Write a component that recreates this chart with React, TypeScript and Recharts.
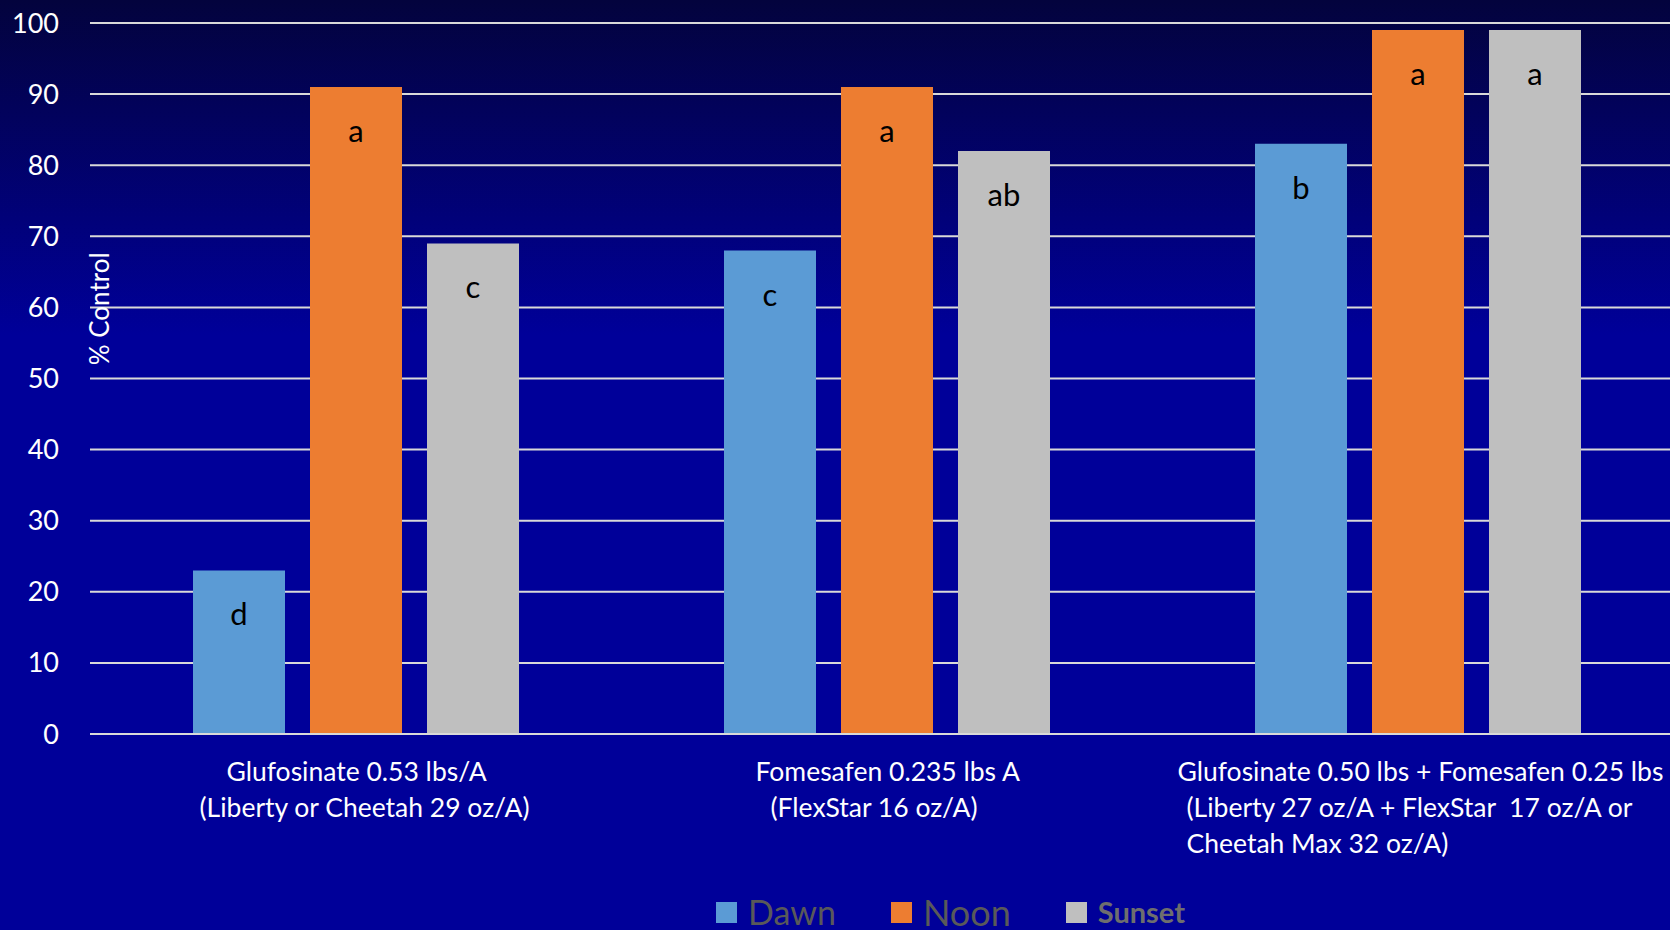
import { BarChart, Bar, XAxis, YAxis, CartesianGrid, Legend, LabelList } from "recharts";

// treatments (one tick per treatment, several lines each)
const categories = ["Glufosinate", "Fomesafen", "Glufosinate + Fomesafen"];
const categoryLines = [
  ["Glufosinate 0.53 lbs/A", "(Liberty or Cheetah 29 oz/A)"],
  ["Fomesafen 0.235 lbs A", "(FlexStar 16 oz/A)"],
  [
    "Glufosinate 0.50 lbs + Fomesafen 0.25 lbs",
    "(Liberty 27 oz/A + FlexStar\u00a0\u00a017 oz/A or",
    "Cheetah Max 32 oz/A)",
  ],
];

const dawn = [23, 68, 83];
const noon = [91, 91, 99];
const sunset = [69, 82, 99];

const dawnLetters = ["d", "c", "b"];
const noonLetters = ["a", "a", "a"];
const sunsetLetters = ["c", "ab", "a"];

const yTicks = [0, 10, 20, 30, 40, 50, 60, 70, 80, 90, 100];

const data = categories.map((name, i) => ({
  name,
  dawn: dawn[i],
  noon: noon[i],
  sunset: sunset[i],
  dawnLetter: dawnLetters[i],
  noonLetter: noonLetters[i],
  sunsetLetter: sunsetLetters[i],
}));

const FONT = "Lato, 'Open Sans', sans-serif";
const COLORS = { dawn: "#5B9BD5", noon: "#ED7D31", sunset: "#BFBFBF" };
const GRID = "#D9D9D9";

// left edge of each tick line, relative to the band centre
const lineStart = [
  [-129, -156],
  [-131, -116],
  [-240, -231, -231],
];

const CategoryTick = (props: any) => {
  const { x, y, index } = props;
  const lines = categoryLines[index] ?? [];
  return (
    <g>
      {lines.map((t, j) => (
        <text
          key={j}
          x={x + lineStart[index][j]}
          y={y + 47 + j * 36}
          textAnchor="start"
          fill="#FFFFFF"
          fontSize={26.5}
          fontFamily={FONT}
        >
          {t}
        </text>
      ))}
    </g>
  );
};

const YLabel = (props: any) => {
  const vb = props.viewBox || {};
  const cx = vb.x + vb.width + 9;
  const cy = vb.y + vb.height * 0.402;
  return (
    <text
      x={cx}
      y={cy}
      transform={`rotate(-90 ${cx} ${cy})`}
      textAnchor="middle"
      dominantBaseline="central"
      fill="#FFFFFF"
      fontSize={26}
      fontFamily={FONT}
    >
      % Control
    </text>
  );
};

const legendItems = [
  { label: "Dawn", color: COLORS.dawn, text: "#595959", size: 34, weight: 400 },
  { label: "Noon", color: COLORS.noon, text: "#595959", size: 36, weight: 400 },
  { label: "Sunset", color: COLORS.sunset, text: "#6E6E6E", size: 29, weight: 700 },
];

const LegendContent = () => (
  <div
    style={{
      height: 38,
      display: "flex",
      alignItems: "center",
      paddingLeft: 716,
      paddingTop: 2,
      boxSizing: "border-box",
      fontFamily: FONT,
    }}
  >
    {legendItems.map((it) => (
      <div key={it.label} style={{ display: "flex", alignItems: "center", marginRight: 55 }}>
        <span style={{ width: 21, height: 21, background: it.color, marginRight: 11, display: "inline-block" }} />
        <span style={{ color: it.text, fontSize: it.size, fontWeight: it.weight, lineHeight: "32px" }}>
          {it.label}
        </span>
      </div>
    ))}
  </div>
);

const letterStyle = { fill: "#000000", fontSize: 31, fontFamily: FONT };

export default function App() {
  return (
    <div
      style={{
        position: "absolute",
        top: 0,
        left: 0,
        width: 1670,
        height: 930,
        overflow: "hidden",
        background: "linear-gradient(to bottom, #03033d 0%, #000099 36%, #000099 100%)",
      }}
    >
      <BarChart
        width={1683}
        height={930}
        data={data}
        margin={{ top: 23, right: 0, bottom: 0, left: 0 }}
        barSize={92}
        barGap={25}
      >
        <CartesianGrid vertical={false} stroke={GRID} strokeWidth={2} />
        <XAxis
          dataKey="name"
          height={158}
          tickLine={false}
          tickSize={0}
          tickMargin={0}
          axisLine={{ stroke: GRID, strokeWidth: 2 }}
          tick={<CategoryTick />}
          interval={0}
        />
        <YAxis
          width={90}
          domain={[0, 100]}
          ticks={yTicks}
          axisLine={false}
          tickLine={false}
          tickSize={0}
          tickMargin={31}
          tick={{ fill: "#FFFFFF", fontSize: 27, fontFamily: FONT }}
          label={<YLabel />}
        />
        <Legend verticalAlign="bottom" content={<LegendContent />} wrapperStyle={{ left: 0, width: 1670 }} />
        <Bar dataKey="dawn" name="Dawn" fill={COLORS.dawn} isAnimationActive={false}>
          <LabelList dataKey="dawnLetter" position="insideTop" offset={33} style={letterStyle} />
        </Bar>
        <Bar dataKey="noon" name="Noon" fill={COLORS.noon} isAnimationActive={false}>
          <LabelList dataKey="noonLetter" position="insideTop" offset={33} style={letterStyle} />
        </Bar>
        <Bar dataKey="sunset" name="Sunset" fill={COLORS.sunset} isAnimationActive={false}>
          <LabelList dataKey="sunsetLetter" position="insideTop" offset={33} style={letterStyle} />
        </Bar>
      </BarChart>
    </div>
  );
}
